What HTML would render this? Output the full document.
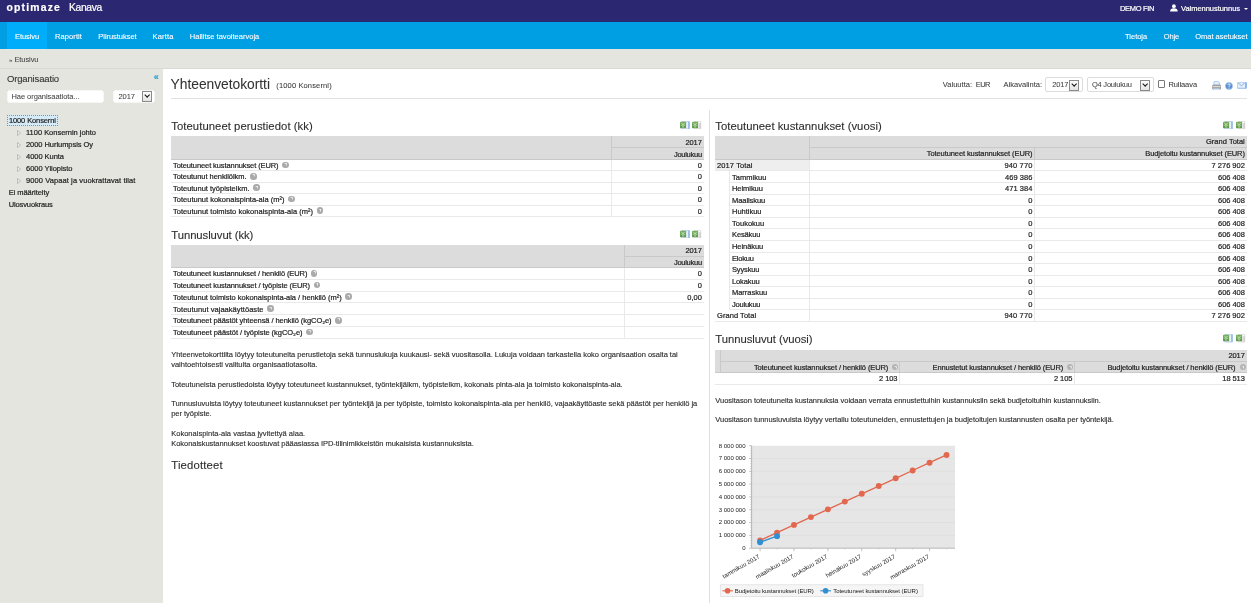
<!DOCTYPE html>
<html lang="fi"><head>
<meta charset="utf-8">
<title>Optimaze Kanava - Yhteenvetokortti</title>
<style>
*{box-sizing:border-box;margin:0;padding:0}
html,body{width:1251px;height:603px;overflow:hidden;background:#e5e5e0;font-family:"Liberation Sans",sans-serif;color:#222;font-size:7.5px;line-height:10px;-webkit-text-stroke:0.2px currentColor}
span{white-space:nowrap}
.abs{position:absolute;white-space:nowrap}
#top{position:absolute;left:0;top:0;width:1251px;height:22px;background:#2b2770}
#nav{position:absolute;left:0;top:22px;width:1251px;height:27px;background:#009ee3}
#nav .act{position:absolute;left:6.6px;top:0;width:40.4px;height:27px;background:#00adfb}
#nav a,#top span{position:absolute;color:#fff;white-space:nowrap;text-decoration:none}
#nav a{-webkit-text-stroke:0.1px #fff;top:9px;font-size:7.5px;line-height:11px}
#crumb{position:absolute;left:0;top:49px;width:1251px;height:20px;background:#e5e5e0;border-bottom:1px solid #dadad5}
#side{position:absolute;left:0;top:69px;width:163px;height:534px;background:#e5e5e0}
#side .n{position:absolute;white-space:nowrap;line-height:10px}
#side .tri{position:absolute}
#main{position:absolute;left:163px;top:69px;width:1088px;height:534px;background:#fff}
.h1{font-size:14px;line-height:18px;color:#333;-webkit-text-stroke:0.05px currentColor}
.h2{font-size:11.5px;line-height:14px;color:#2e2e2e;-webkit-text-stroke:0.1px currentColor}
#side .inp{border-color:#f6f6f4;box-shadow:0 0 0.6px #c8c8c4}
.inp{position:absolute;background:#fff;border:1px solid #dcdcdc;border-radius:2px;font-size:7.5px;line-height:12.5px;color:#444;padding-left:4px;white-space:nowrap;-webkit-text-stroke:0.05px currentColor}
.dd{position:absolute;right:2.5px;top:0.6px;width:10px;height:10.6px;border:1px solid #8a8a8a;background:linear-gradient(#fdfdfd,#e4e4e4)}
.dd:after{content:"";position:absolute;left:2.1px;top:0.9px;width:3.4px;height:3.4px;border-right:1.2px solid #111;border-bottom:1.2px solid #111;transform:rotate(45deg)}
table{position:absolute;border-collapse:collapse;table-layout:fixed;font-size:7.5px}
td,th{font-weight:normal;line-height:9px;padding:0.6px 2.2px 0 2px;white-space:nowrap;overflow:hidden;border-bottom:1px solid #e9e9e9;border-right:1px solid #e9e9e9;text-align:left;vertical-align:middle}
th{background:#dcdcdc;border-color:#c9c9c9;text-align:right;padding-top:1.2px}
td.r{text-align:right}
td:last-child,th:last-child{border-right:none}
td.r:not(:last-child),th:not(:last-child){padding-right:1.3px}
.q{display:inline-block;width:6.6px;height:6.6px;border-radius:50%;background:#aaa;margin-left:3.6px;vertical-align:-0.6px;position:relative;top:-0.4px}
th .q{width:6.1px;height:6.1px;background:#b4b4b4;margin:0 -0.8px 0 4px;top:0}
th .q:after{left:2px;top:1.2px;border-color:#ececec #ececec transparent transparent}
.q:after{content:"";position:absolute;left:2px;top:1.3px;width:2.7px;height:3px;border:1px solid #f0f0f0;border-left-color:transparent;border-bottom-color:transparent;border-radius:50%;box-sizing:border-box}
p.t{position:absolute;left:8.2px;white-space:nowrap;color:#2c2c2c;-webkit-text-stroke:0.12px currentColor}
.lb{color:#3a3a3a;-webkit-text-stroke:0.06px currentColor}
.hr{position:absolute;height:1px;background:#e2e2e2}
.xl{position:absolute;width:9px;height:8px}
.t3 td.ind{border-bottom:none;padding:0}
</style>
</head>
<body>
<div id="top">
  <span style="left: 6.5px; top: 1.1px; font-size: 10.4px; line-height: 14px; font-weight: bold; letter-spacing: 1.182px;">optimaze</span>
  <span style="left: 69px; top: 1.4px; font-size: 10.3px; line-height: 14px; letter-spacing: -0.323px;">Kanava</span>
  <span style="left: 1120px; top: 3.5px; font-size: 7.5px; line-height: 10px; letter-spacing: -0.334px;">DEMO FIN</span>
  <svg style="position:absolute;left:1170px;top:4.4px" width="7.8" height="7.6" viewBox="0 0 16 16"><circle cx="8" cy="4.5" r="4" fill="#fff"></circle><path d="M0 16c0-5 3-7 8-7s8 2 8 7z" fill="#fff"></path></svg>
  <span style="left: 1181px; top: 3.5px; font-size: 7.5px; line-height: 10px; letter-spacing: -0.032px;">Valmennustunnus</span>
  <div style="position:absolute;left:1243.5px;top:8px;width:0;height:0;border-top:2.5px solid #fff;border-left:2px solid transparent;border-right:2px solid transparent"></div>
</div>
<div id="nav">
  <div class="act"></div>
  <a style="left: 15px; letter-spacing: -0.087px;">Etusivu</a>
  <a style="left: 55px; letter-spacing: 0.092px;">Raportit</a>
  <a style="left: 98.3px; letter-spacing: -0.039px;">Piirustukset</a>
  <a style="left: 152.6px; letter-spacing: 0.164px;">Kartta</a>
  <a style="left: 189.8px; letter-spacing: 0.013px;">Hallitse tavoitearvoja</a>
  <a style="left: 1125px; letter-spacing: -0.005px;">Tietoja</a>
  <a style="left: 1163.8px; letter-spacing: -0.161px;">Ohje</a>
  <a style="left: 1195.3px; letter-spacing: -0.024px;">Omat asetukset</a>
</div>
<div id="crumb"><span class="abs" style="left:9px;top:6px;line-height:10px;color:#444;-webkit-text-stroke:0.05px currentColor"><span style="font-size:6px;vertical-align:0.3px">»</span> <span style="letter-spacing: -0.087px;">Etusivu</span></span></div>
<div id="side">
  <span class="abs" style="left: 7px; top: 3.1px; font-size: 9.5px; line-height: 14px; color: rgb(51, 51, 51); -webkit-text-stroke: 0.1px currentcolor; letter-spacing: -0.156px;">Organisaatio</span>
  <span class="abs" style="left:153.8px;top:2.7px;font-size:9px;line-height:10px;color:#2a9fd8;font-weight:bold">«</span>
  <div class="inp" style="left:6.8px;top:20.5px;width:97.5px;height:13.5px;padding-left:3.7px"><span style="letter-spacing: -0.058px;">Hae organisaatiota...</span></div>
  <div class="inp" style="left:113px;top:20.5px;width:42.3px;height:13.5px;padding-left:4.5px"><span style="letter-spacing: -0.047px;">2017</span><i class="dd"></i></div>
  <span class="n" style="left: 6.6px; top: 46px; border: 1px dotted rgb(106, 154, 176); background: rgb(214, 235, 248); padding: 0.4px 1px 0px 1.3px; line-height: 9px; letter-spacing: -0.106px;">1000 Konserni</span>
  <svg class="tri" style="left:17.1px;top:61.2px" width="4.2" height="6" viewBox="0 0 4.2 6"><path d="M.5 .5L3.6 3L.5 5.5Z" fill="#ececea" stroke="#a8a8a8" stroke-width=".7"></path></svg><span class="n" style="left: 26px; top: 59.4px; letter-spacing: -0.017px;">1100 Konsernin johto</span>
  <svg class="tri" style="left:17.1px;top:73.0px" width="4.2" height="6" viewBox="0 0 4.2 6"><path d="M.5 .5L3.6 3L.5 5.5Z" fill="#ececea" stroke="#a8a8a8" stroke-width=".7"></path></svg><span class="n" style="left: 26px; top: 71.2px; letter-spacing: -0.053px;">2000 Hurlumpsis Oy</span>
  <svg class="tri" style="left:17.1px;top:85.2px" width="4.2" height="6" viewBox="0 0 4.2 6"><path d="M.5 .5L3.6 3L.5 5.5Z" fill="#ececea" stroke="#a8a8a8" stroke-width=".7"></path></svg><span class="n" style="left: 26px; top: 83.4px; letter-spacing: -0.037px;">4000 Kunta</span>
  <svg class="tri" style="left:17.1px;top:97.0px" width="4.2" height="6" viewBox="0 0 4.2 6"><path d="M.5 .5L3.6 3L.5 5.5Z" fill="#ececea" stroke="#a8a8a8" stroke-width=".7"></path></svg><span class="n" style="left: 26px; top: 95.2px; letter-spacing: -0.035px;">6000 Yliopisto</span>
  <svg class="tri" style="left:17.1px;top:108.8px" width="4.2" height="6" viewBox="0 0 4.2 6"><path d="M.5 .5L3.6 3L.5 5.5Z" fill="#ececea" stroke="#a8a8a8" stroke-width=".7"></path></svg><span class="n" style="left: 26px; top: 107px; letter-spacing: 0.088px;">9000 Vapaat ja vuokrattavat tilat</span>
  <span class="n" style="left: 8.7px; top: 119px; letter-spacing: -0.059px;">Ei määritelty</span>
  <span class="n" style="left: 8.7px; top: 131px; letter-spacing: -0.12px;">Ulosvuokraus</span>
</div>
<div id="main">
  <span class="abs h1" style="left: 7.6px; top: 6.6px; font-size: 13.8px; letter-spacing: -0.02px;">Yhteenvetokortti</span>
  <span class="abs lb" style="left: 113.3px; top: 11.5px; letter-spacing: 0.142px;">(1000 Konserni)</span>
  <span class="abs lb" style="left: 779.8px; top: 11px; letter-spacing: 0.026px;">Valuutta:</span>
  <span class="abs lb" style="left: 812.8px; top: 11px; letter-spacing: -0.548px;">EUR</span>
  <span class="abs lb" style="left: 840.6px; top: 11px; letter-spacing: 0.012px;">Aikavalinta:</span>
  <div class="inp" style="left:882.3px;top:8px;width:37.6px;height:15px;line-height:13.5px;padding-left:6px"><span style="letter-spacing: -0.172px;">2017</span><i class="dd" style="top:2px;right:3px"></i></div>
  <div class="inp" style="left:924.3px;top:8px;width:66.6px;height:15px;line-height:13.5px;padding-left:3.6px"><span style="letter-spacing: -0.211px;">Q4 Joulukuu</span><i class="dd" style="top:2px;right:3px"></i></div>
  <div class="abs" style="left:995.3px;top:11.2px;width:7.2px;height:7.6px;border:1px solid #777;border-radius:1px;background:#fff"></div>
  <span class="abs lb" style="left: 1005.4px; top: 11px; letter-spacing: -0.073px;">Rullaava</span>
  <svg class="abs" style="left:1049px;top:11.6px" width="9.4" height="9.4" viewBox="0 0 9.4 9.4"><path d="M2 4.2V.9Q2 .3 2.6 .3H6L7.6 1.8V4.2Z" fill="#e4effc" stroke="#8db6ea" stroke-width=".7"></path><rect x=".3" y="4" width="8.8" height="4.2" rx="1" fill="#a9a9a9" stroke="#8e8e8e" stroke-width=".5"></rect><rect x=".9" y="5" width="7.6" height="1" fill="#d9d9d9"></rect><rect x="1.8" y="7.6" width="5.8" height="1.5" fill="#d5e6fb" stroke="#a9c8f0" stroke-width=".4"></rect></svg>
  <svg class="abs" style="left:1062.4px;top:12.6px;-webkit-text-stroke:0" width="8" height="8" viewBox="0 0 8 8"><circle cx="4" cy="4" r="3.6" fill="#5b8fd1" stroke="#a9c6ec" stroke-width=".7"></circle><path d="M2.9 3.1Q2.9 1.9 4 1.9Q5.2 1.9 5.2 2.9Q5.2 3.6 4.5 3.9Q4 4.2 4 4.9" fill="none" stroke="#eef4fc" stroke-width="1"></path><circle cx="4" cy="6.1" r=".6" fill="#eef4fc"></circle></svg>
  <svg class="abs" style="left:1074.2px;top:13px" width="9.8" height="6.8" viewBox="0 0 9.8 6.8"><rect x=".4" y=".4" width="9" height="6" rx=".7" fill="#e6f0fc" stroke="#a4c3ee" stroke-width=".8"></rect><rect x="8.2" y=".3" width="1.4" height="6.2" rx=".5" fill="#7fa9e2"></rect><path d="M1.2 1.2l3.2 2.5L7.6 1.2" fill="none" stroke="#7fa9e2" stroke-width=".9"></path><path d="M.6 6.2h8.6" stroke="#a4c3ee" stroke-width=".8"></path></svg>
  <div class="hr" style="left:8px;top:29.2px;width:1076px"></div>
  <div class="abs" style="left:546px;top:40.5px;width:1px;height:494px;background:#e0e0e0"></div>

  <!-- left column -->
  <span class="abs h2" style="left: 8.3px; top: 49.7px; font-size: 11.3px; letter-spacing: 0.052px;">Toteutuneet perustiedot (kk)</span>
  <svg class="abs" style="left:517.0px;top:51.6px" width="10.2" height="8.6" viewBox="0 0 10.2 8.6"><rect x="1.6" y="0.4" width="8.1" height="7.7" rx=".5" fill="#dce7f9" stroke="#a9c3ec" stroke-width=".7"></rect><rect x="8" y="0.6" width="1.8" height="7.3" fill="#9fbcea"></rect><rect x="6.6" y="1.3" width="1.1" height="5.8" fill="#f1f5fd"></rect><rect x="0" y="0.7" width="6.1" height="6.6" rx=".9" fill="#72aa5b"></rect><path d="M1.3 2.1L4.8 5M4.8 2.1L1.3 5" stroke="#c6e5bb" stroke-width=".9" fill="none"></path><rect x="0.4" y="5" width="5.3" height="1.9" rx=".6" fill="#579444"></rect><path d="M1.9 5.9h2.4" stroke="#e9f5e3" stroke-width=".8" fill="none"></path></svg><svg class="abs" style="left:529.1px;top:51.6px" width="10.2" height="8.6" viewBox="0 0 10.2 8.6"><rect x="2.2" y="0.4" width="6.6" height="7.6" rx=".5" fill="#ededed" stroke="#d0d0d0" stroke-width=".6"></rect><rect x="7.3" y="1.8" width="1.5" height="6" fill="#cdcdcd"></rect><rect x="6.4" y="0.9" width="1.8" height="1.4" fill="#fff"></rect><rect x="0" y="0.7" width="6.1" height="6.6" rx=".9" fill="#72aa5b"></rect><path d="M1.3 2.1L4.8 5M4.8 2.1L1.3 5" stroke="#c6e5bb" stroke-width=".9" fill="none"></path><rect x="0.4" y="5" width="5.3" height="1.9" rx=".6" fill="#579444"></rect><path d="M1.9 5.9h2.4" stroke="#e9f5e3" stroke-width=".8" fill="none"></path></svg>
  <table style="left:8px;top:67.1px;width:533px">
    <colgroup><col style="width:440.5px"><col></colgroup>
    <tbody><tr style="height:11.3px"><th rowspan="2"></th><th><span style="letter-spacing: -0.072px;">2017</span></th></tr>
    <tr style="height:12.1px"><th><span style="letter-spacing: -0.266px;">Joulukuu</span></th></tr>
    <tr style="height:11.42px"><td><span style="letter-spacing: -0.097px;">Toteutuneet kustannukset (EUR)</span><i class="q"></i></td><td class="r">0</td></tr>
    <tr style="height:11.42px"><td><span style="letter-spacing: -0.052px;">Toteutunut henkilölkm.</span><i class="q"></i></td><td class="r">0</td></tr>
    <tr style="height:11.42px"><td><span style="letter-spacing: -0.01px;">Toteutunut työpistelkm.</span><i class="q"></i></td><td class="r">0</td></tr>
    <tr style="height:11.42px"><td><span style="letter-spacing: 0.006px;">Toteutunut kokonaispinta-ala (m²)</span><i class="q"></i></td><td class="r">0</td></tr>
    <tr style="height:11.42px"><td><span style="letter-spacing: 0.018px;">Toteutunut toimisto kokonaispinta-ala (m²)</span><i class="q"></i></td><td class="r">0</td></tr>
  </tbody></table>

  <span class="abs h2" style="left: 8.3px; top: 158.7px; font-size: 11.3px; letter-spacing: -0.068px;">Tunnusluvut (kk)</span>
  <svg class="abs" style="left:517.0px;top:160.6px" width="10.2" height="8.6" viewBox="0 0 10.2 8.6"><rect x="1.6" y="0.4" width="8.1" height="7.7" rx=".5" fill="#dce7f9" stroke="#a9c3ec" stroke-width=".7"></rect><rect x="8" y="0.6" width="1.8" height="7.3" fill="#9fbcea"></rect><rect x="6.6" y="1.3" width="1.1" height="5.8" fill="#f1f5fd"></rect><rect x="0" y="0.7" width="6.1" height="6.6" rx=".9" fill="#72aa5b"></rect><path d="M1.3 2.1L4.8 5M4.8 2.1L1.3 5" stroke="#c6e5bb" stroke-width=".9" fill="none"></path><rect x="0.4" y="5" width="5.3" height="1.9" rx=".6" fill="#579444"></rect><path d="M1.9 5.9h2.4" stroke="#e9f5e3" stroke-width=".8" fill="none"></path></svg><svg class="abs" style="left:529.1px;top:160.6px" width="10.2" height="8.6" viewBox="0 0 10.2 8.6"><rect x="2.2" y="0.4" width="6.6" height="7.6" rx=".5" fill="#ededed" stroke="#d0d0d0" stroke-width=".6"></rect><rect x="7.3" y="1.8" width="1.5" height="6" fill="#cdcdcd"></rect><rect x="6.4" y="0.9" width="1.8" height="1.4" fill="#fff"></rect><rect x="0" y="0.7" width="6.1" height="6.6" rx=".9" fill="#72aa5b"></rect><path d="M1.3 2.1L4.8 5M4.8 2.1L1.3 5" stroke="#c6e5bb" stroke-width=".9" fill="none"></path><rect x="0.4" y="5" width="5.3" height="1.9" rx=".6" fill="#579444"></rect><path d="M1.9 5.9h2.4" stroke="#e9f5e3" stroke-width=".8" fill="none"></path></svg>
  <table style="left:8px;top:176px;width:533px">
    <colgroup><col style="width:453.4px"><col></colgroup>
    <tbody><tr style="height:11.3px"><th rowspan="2"></th><th><span style="letter-spacing: -0.072px;">2017</span></th></tr>
    <tr style="height:11.4px"><th><span style="letter-spacing: -0.266px;">Joulukuu</span></th></tr>
    <tr style="height:11.75px"><td><span style="letter-spacing: -0.103px;">Toteutuneet kustannukset / henkilö (EUR)</span><i class="q"></i></td><td class="r">0</td></tr>
    <tr style="height:11.75px"><td><span style="letter-spacing: -0.085px;">Toteutuneet kustannukset / työpiste (EUR)</span><i class="q"></i></td><td class="r">0</td></tr>
    <tr style="height:11.75px"><td><span style="letter-spacing: -0.011px;">Toteutunut toimisto kokonaispinta-ala / henkilö (m²)</span><i class="q"></i></td><td class="r"><span style="letter-spacing: -0.027px;">0,00</span></td></tr>
    <tr style="height:11.75px"><td><span style="letter-spacing: 0.049px;">Toteutunut vajaakäyttöaste</span><i class="q"></i></td><td class="r"></td></tr>
    <tr style="height:11.75px"><td><span style="letter-spacing: -0.069px;">Toteutuneet päästöt yhteensä / henkilö (kgCO₂e)</span><i class="q"></i></td><td class="r"></td></tr>
    <tr style="height:11.75px"><td><span style="letter-spacing: -0.047px;">Toteutuneet päästöt / työpiste (kgCO₂e)</span><i class="q"></i></td><td class="r"></td></tr>
  </tbody></table>

  <p class="t" style="top:281.0px"><span style="letter-spacing: -0.016px;">Yhteenvetokorttilta löytyy toteutuneita perustietoja sekä tunnuslukuja kuukausi- sekä vuositasolla. Lukuja voidaan tarkastella koko organisaation osalta tai</span><br><span>vaihtoehtoisesti valitulta organisaatiotasolta.</span></p>
  <p class="t" style="top:310.7px"><span style="letter-spacing: -0.009px;">Toteutuneista perustiedoista löytyy toteutuneet kustannukset, työntekijälkm, työpistelkm, kokonais pinta-ala ja toimisto kokonaispinta-ala.</span></p>
  <p class="t" style="top:330.2px"><span style="letter-spacing: -0.022px;">Tunnusluvuista löytyy toteutuneet kustannukset per työntekijä ja per työpiste, toimisto kokonaispinta-ala per henkilö, vajaakäyttöaste sekä päästöt per henkilö ja</span><br><span style="letter-spacing: -0.028px;">per työpiste.</span></p>
  <p class="t" style="top:359.7px"><span style="letter-spacing: 0.014px;">Kokonaispinta-ala vastaa jyvitettyä alaa.</span><br><span style="letter-spacing: -0.039px;">Kokonaiskustannukset koostuvat pääasiassa IPD-tilinimikkeistön mukaisista kustannuksista.</span></p>
  <span class="abs h2" style="left: 8.3px; top: 388.6px; font-size: 11.3px; letter-spacing: 0.167px;">Tiedotteet</span>

  <!-- right column -->
  <span class="abs h2" style="left: 552.3px; top: 49.7px; font-size: 11.3px; letter-spacing: 0.019px;">Toteutuneet kustannukset (vuosi)</span>
  <svg class="abs" style="left:1060.0px;top:51.6px" width="10.2" height="8.6" viewBox="0 0 10.2 8.6"><rect x="1.6" y="0.4" width="8.1" height="7.7" rx=".5" fill="#dce7f9" stroke="#a9c3ec" stroke-width=".7"></rect><rect x="8" y="0.6" width="1.8" height="7.3" fill="#9fbcea"></rect><rect x="6.6" y="1.3" width="1.1" height="5.8" fill="#f1f5fd"></rect><rect x="0" y="0.7" width="6.1" height="6.6" rx=".9" fill="#72aa5b"></rect><path d="M1.3 2.1L4.8 5M4.8 2.1L1.3 5" stroke="#c6e5bb" stroke-width=".9" fill="none"></path><rect x="0.4" y="5" width="5.3" height="1.9" rx=".6" fill="#579444"></rect><path d="M1.9 5.9h2.4" stroke="#e9f5e3" stroke-width=".8" fill="none"></path></svg><svg class="abs" style="left:1073.0px;top:51.6px" width="10.2" height="8.6" viewBox="0 0 10.2 8.6"><rect x="2.2" y="0.4" width="6.6" height="7.6" rx=".5" fill="#ededed" stroke="#d0d0d0" stroke-width=".6"></rect><rect x="7.3" y="1.8" width="1.5" height="6" fill="#cdcdcd"></rect><rect x="6.4" y="0.9" width="1.8" height="1.4" fill="#fff"></rect><rect x="0" y="0.7" width="6.1" height="6.6" rx=".9" fill="#72aa5b"></rect><path d="M1.3 2.1L4.8 5M4.8 2.1L1.3 5" stroke="#c6e5bb" stroke-width=".9" fill="none"></path><rect x="0.4" y="5" width="5.3" height="1.9" rx=".6" fill="#579444"></rect><path d="M1.9 5.9h2.4" stroke="#e9f5e3" stroke-width=".8" fill="none"></path></svg>
  <table style="left:552px;top:66.9px;width:532px" class="t3">
    <colgroup><col style="width:14.5px"><col style="width:80px"><col style="width:224.8px"><col></colgroup>
    <tbody><tr style="height:11.2px"><th rowspan="2" colspan="2"></th><th colspan="2"><span style="letter-spacing: 0.014px;">Grand Total</span></th></tr>
    <tr style="height:12.3px"><th><span style="letter-spacing: -0.087px;">Toteutuneet kustannukset (EUR)</span></th><th><span style="letter-spacing: -0.106px;">Budjetoitu kustannukset (EUR)</span></th></tr>
    <tr style="height:11.58px"><td colspan="2" style="background:#eeeeee"><span style="letter-spacing: 0.102px;">2017 Total</span></td><td class="r"><span style="letter-spacing: 0.125px;">940 770</span></td><td class="r"><span style="letter-spacing: -0.019px;">7 276 902</span></td></tr>
    <tr style="height:11.58px"><td class="ind"></td><td><span style="letter-spacing: 0.027px;">Tammikuu</span></td><td class="r"><span style="letter-spacing: 0.054px;">469 386</span></td><td class="r"><span style="letter-spacing: -0.046px;">606 408</span></td></tr>
    <tr style="height:11.58px"><td class="ind"></td><td><span style="letter-spacing: -0.058px;">Helmikuu</span></td><td class="r"><span style="letter-spacing: 0.054px;">471 384</span></td><td class="r"><span style="letter-spacing: -0.046px;">606 408</span></td></tr>
    <tr style="height:11.58px"><td class="ind"></td><td><span style="letter-spacing: -0.063px;">Maaliskuu</span></td><td class="r">0</td><td class="r"><span style="letter-spacing: -0.046px;">606 408</span></td></tr>
    <tr style="height:11.58px"><td class="ind"></td><td><span style="letter-spacing: -0.014px;">Huhtikuu</span></td><td class="r">0</td><td class="r"><span style="letter-spacing: -0.046px;">606 408</span></td></tr>
    <tr style="height:11.58px"><td class="ind"></td><td><span style="letter-spacing: 0.011px;">Toukokuu</span></td><td class="r">0</td><td class="r"><span style="letter-spacing: -0.046px;">606 408</span></td></tr>
    <tr style="height:11.58px"><td class="ind"></td><td><span style="letter-spacing: -0.127px;">Kesäkuu</span></td><td class="r">0</td><td class="r"><span style="letter-spacing: -0.046px;">606 408</span></td></tr>
    <tr style="height:11.58px"><td class="ind"></td><td><span style="letter-spacing: -0.063px;">Heinäkuu</span></td><td class="r">0</td><td class="r"><span style="letter-spacing: -0.046px;">606 408</span></td></tr>
    <tr style="height:11.58px"><td class="ind"></td><td><span style="letter-spacing: -0.206px;">Elokuu</span></td><td class="r">0</td><td class="r"><span style="letter-spacing: -0.046px;">606 408</span></td></tr>
    <tr style="height:11.58px"><td class="ind"></td><td><span style="letter-spacing: -0.151px;">Syyskuu</span></td><td class="r">0</td><td class="r"><span style="letter-spacing: -0.046px;">606 408</span></td></tr>
    <tr style="height:11.58px"><td class="ind"></td><td><span style="letter-spacing: -0.123px;">Lokakuu</span></td><td class="r">0</td><td class="r"><span style="letter-spacing: -0.046px;">606 408</span></td></tr>
    <tr style="height:11.58px"><td class="ind"></td><td><span style="letter-spacing: -0.026px;">Marraskuu</span></td><td class="r">0</td><td class="r"><span style="letter-spacing: -0.046px;">606 408</span></td></tr>
    <tr style="height:11.58px"><td class="ind"></td><td><span style="letter-spacing: -0.216px;">Joulukuu</span></td><td class="r">0</td><td class="r"><span style="letter-spacing: -0.046px;">606 408</span></td></tr>
    <tr style="height:11.58px"><td colspan="2"><span style="letter-spacing: 0.051px;">Grand Total</span></td><td class="r"><span style="letter-spacing: 0.125px;">940 770</span></td><td class="r"><span style="letter-spacing: -0.019px;">7 276 902</span></td></tr>
  </tbody></table>

  <span class="abs h2" style="left: 552.3px; top: 262.5px; font-size: 11.3px; letter-spacing: -0.051px;">Tunnusluvut (vuosi)</span>
  <svg class="abs" style="left:1060.0px;top:265.4px" width="10.2" height="8.6" viewBox="0 0 10.2 8.6"><rect x="1.6" y="0.4" width="8.1" height="7.7" rx=".5" fill="#dce7f9" stroke="#a9c3ec" stroke-width=".7"></rect><rect x="8" y="0.6" width="1.8" height="7.3" fill="#9fbcea"></rect><rect x="6.6" y="1.3" width="1.1" height="5.8" fill="#f1f5fd"></rect><rect x="0" y="0.7" width="6.1" height="6.6" rx=".9" fill="#72aa5b"></rect><path d="M1.3 2.1L4.8 5M4.8 2.1L1.3 5" stroke="#c6e5bb" stroke-width=".9" fill="none"></path><rect x="0.4" y="5" width="5.3" height="1.9" rx=".6" fill="#579444"></rect><path d="M1.9 5.9h2.4" stroke="#e9f5e3" stroke-width=".8" fill="none"></path></svg><svg class="abs" style="left:1073.0px;top:265.4px" width="10.2" height="8.6" viewBox="0 0 10.2 8.6"><rect x="2.2" y="0.4" width="6.6" height="7.6" rx=".5" fill="#ededed" stroke="#d0d0d0" stroke-width=".6"></rect><rect x="7.3" y="1.8" width="1.5" height="6" fill="#cdcdcd"></rect><rect x="6.4" y="0.9" width="1.8" height="1.4" fill="#fff"></rect><rect x="0" y="0.7" width="6.1" height="6.6" rx=".9" fill="#72aa5b"></rect><path d="M1.3 2.1L4.8 5M4.8 2.1L1.3 5" stroke="#c6e5bb" stroke-width=".9" fill="none"></path><rect x="0.4" y="5" width="5.3" height="1.9" rx=".6" fill="#579444"></rect><path d="M1.9 5.9h2.4" stroke="#e9f5e3" stroke-width=".8" fill="none"></path></svg>
  <table style="left:552px;top:280.9px;width:532px">
    <colgroup><col style="width:5px"><col style="width:179.3px"><col style="width:174.9px"><col></colgroup>
    <tbody><tr style="height:11.3px"><th rowspan="2"></th><th colspan="3"><span style="letter-spacing: -0.072px;">2017</span></th></tr>
    <tr style="height:11.2px"><th><span style="letter-spacing: -0.103px;">Toteutuneet kustannukset / henkilö (EUR)</span><i class="q"></i></th><th><span style="letter-spacing: -0.117px;">Ennustetut kustannukset / henkilö (EUR)</span><i class="q"></i></th><th><span style="letter-spacing: -0.115px;">Budjetoitu kustannukset / henkilö (EUR)</span><i class="q"></i></th></tr>
    <tr style="height:11.7px"><td colspan="2" class="r"><span style="letter-spacing: -0.056px;">2 103</span></td><td class="r"><span style="letter-spacing: -0.056px;">2 105</span></td><td class="r"><span style="letter-spacing: -0.076px;">18 513</span></td></tr>
  </tbody></table>
  <p class="t" style="left:552.3px;top:326.8px"><span style="letter-spacing: -0.021px;">Vuositason toteutuneita kustannuksia voidaan verrata ennustettuihin kustannuksiin sekä budjetoituihin kustannuksiin.</span></p>
  <p class="t" style="left:552.3px;top:346.3px"><span style="letter-spacing: -0.023px;">Vuositason tunnusluvuista löytyy vertailu toteutuneiden, ennustettujen ja budjetoitujen kustannusten osalta per työntekijä.</span></p>
  <svg class="abs" style="left:552px;top:368px;-webkit-text-stroke:0.2px #1a1a1a" width="245" height="166" viewBox="0 0 245 166" font-family="Liberation Sans, sans-serif" font-size="6.05">
<rect x="36.6" y="8.7" width="203.4" height="102.5" fill="#e6e6e6"></rect>
<line x1="36.6" x2="240.0" y1="98.39" y2="98.39" stroke="#dddddd" stroke-width="0.7"></line>
<line x1="36.6" x2="240.0" y1="85.58" y2="85.58" stroke="#dddddd" stroke-width="0.7"></line>
<line x1="36.6" x2="240.0" y1="72.76" y2="72.76" stroke="#dddddd" stroke-width="0.7"></line>
<line x1="36.6" x2="240.0" y1="59.95" y2="59.95" stroke="#dddddd" stroke-width="0.7"></line>
<line x1="36.6" x2="240.0" y1="47.14" y2="47.14" stroke="#dddddd" stroke-width="0.7"></line>
<line x1="36.6" x2="240.0" y1="34.33" y2="34.33" stroke="#dddddd" stroke-width="0.7"></line>
<line x1="36.6" x2="240.0" y1="21.51" y2="21.51" stroke="#dddddd" stroke-width="0.7"></line>
<path d="M36.6 8.7V111.2H240.0" fill="none" stroke="#a6a6a6" stroke-width="0.8"></path>
<line x1="34.1" x2="36.6" y1="111.20" y2="111.20" stroke="#a6a6a6" stroke-width="0.7"></line>
<line x1="35.2" x2="36.6" y1="108.64" y2="108.64" stroke="#b8b8b8" stroke-width="0.6"></line>
<line x1="35.2" x2="36.6" y1="106.08" y2="106.08" stroke="#b8b8b8" stroke-width="0.6"></line>
<line x1="35.2" x2="36.6" y1="103.51" y2="103.51" stroke="#b8b8b8" stroke-width="0.6"></line>
<line x1="35.2" x2="36.6" y1="100.95" y2="100.95" stroke="#b8b8b8" stroke-width="0.6"></line>
<text x="30.6" y="113.10" text-anchor="end" fill="#1a1a1a">0</text>
<line x1="34.1" x2="36.6" y1="98.39" y2="98.39" stroke="#a6a6a6" stroke-width="0.7"></line>
<line x1="35.2" x2="36.6" y1="95.83" y2="95.83" stroke="#b8b8b8" stroke-width="0.6"></line>
<line x1="35.2" x2="36.6" y1="93.26" y2="93.26" stroke="#b8b8b8" stroke-width="0.6"></line>
<line x1="35.2" x2="36.6" y1="90.70" y2="90.70" stroke="#b8b8b8" stroke-width="0.6"></line>
<line x1="35.2" x2="36.6" y1="88.14" y2="88.14" stroke="#b8b8b8" stroke-width="0.6"></line>
<text x="30.6" y="100.29" text-anchor="end" fill="#1a1a1a">1 000 000</text>
<line x1="34.1" x2="36.6" y1="85.58" y2="85.58" stroke="#a6a6a6" stroke-width="0.7"></line>
<line x1="35.2" x2="36.6" y1="83.01" y2="83.01" stroke="#b8b8b8" stroke-width="0.6"></line>
<line x1="35.2" x2="36.6" y1="80.45" y2="80.45" stroke="#b8b8b8" stroke-width="0.6"></line>
<line x1="35.2" x2="36.6" y1="77.89" y2="77.89" stroke="#b8b8b8" stroke-width="0.6"></line>
<line x1="35.2" x2="36.6" y1="75.33" y2="75.33" stroke="#b8b8b8" stroke-width="0.6"></line>
<text x="30.6" y="87.48" text-anchor="end" fill="#1a1a1a">2 000 000</text>
<line x1="34.1" x2="36.6" y1="72.76" y2="72.76" stroke="#a6a6a6" stroke-width="0.7"></line>
<line x1="35.2" x2="36.6" y1="70.20" y2="70.20" stroke="#b8b8b8" stroke-width="0.6"></line>
<line x1="35.2" x2="36.6" y1="67.64" y2="67.64" stroke="#b8b8b8" stroke-width="0.6"></line>
<line x1="35.2" x2="36.6" y1="65.08" y2="65.08" stroke="#b8b8b8" stroke-width="0.6"></line>
<line x1="35.2" x2="36.6" y1="62.51" y2="62.51" stroke="#b8b8b8" stroke-width="0.6"></line>
<text x="30.6" y="74.66" text-anchor="end" fill="#1a1a1a">3 000 000</text>
<line x1="34.1" x2="36.6" y1="59.95" y2="59.95" stroke="#a6a6a6" stroke-width="0.7"></line>
<line x1="35.2" x2="36.6" y1="57.39" y2="57.39" stroke="#b8b8b8" stroke-width="0.6"></line>
<line x1="35.2" x2="36.6" y1="54.83" y2="54.83" stroke="#b8b8b8" stroke-width="0.6"></line>
<line x1="35.2" x2="36.6" y1="52.26" y2="52.26" stroke="#b8b8b8" stroke-width="0.6"></line>
<line x1="35.2" x2="36.6" y1="49.70" y2="49.70" stroke="#b8b8b8" stroke-width="0.6"></line>
<text x="30.6" y="61.85" text-anchor="end" fill="#1a1a1a">4 000 000</text>
<line x1="34.1" x2="36.6" y1="47.14" y2="47.14" stroke="#a6a6a6" stroke-width="0.7"></line>
<line x1="35.2" x2="36.6" y1="44.58" y2="44.58" stroke="#b8b8b8" stroke-width="0.6"></line>
<line x1="35.2" x2="36.6" y1="42.01" y2="42.01" stroke="#b8b8b8" stroke-width="0.6"></line>
<line x1="35.2" x2="36.6" y1="39.45" y2="39.45" stroke="#b8b8b8" stroke-width="0.6"></line>
<line x1="35.2" x2="36.6" y1="36.89" y2="36.89" stroke="#b8b8b8" stroke-width="0.6"></line>
<text x="30.6" y="49.04" text-anchor="end" fill="#1a1a1a">5 000 000</text>
<line x1="34.1" x2="36.6" y1="34.33" y2="34.33" stroke="#a6a6a6" stroke-width="0.7"></line>
<line x1="35.2" x2="36.6" y1="31.76" y2="31.76" stroke="#b8b8b8" stroke-width="0.6"></line>
<line x1="35.2" x2="36.6" y1="29.20" y2="29.20" stroke="#b8b8b8" stroke-width="0.6"></line>
<line x1="35.2" x2="36.6" y1="26.64" y2="26.64" stroke="#b8b8b8" stroke-width="0.6"></line>
<line x1="35.2" x2="36.6" y1="24.07" y2="24.07" stroke="#b8b8b8" stroke-width="0.6"></line>
<text x="30.6" y="36.23" text-anchor="end" fill="#1a1a1a">6 000 000</text>
<line x1="34.1" x2="36.6" y1="21.51" y2="21.51" stroke="#a6a6a6" stroke-width="0.7"></line>
<line x1="35.2" x2="36.6" y1="18.95" y2="18.95" stroke="#b8b8b8" stroke-width="0.6"></line>
<line x1="35.2" x2="36.6" y1="16.39" y2="16.39" stroke="#b8b8b8" stroke-width="0.6"></line>
<line x1="35.2" x2="36.6" y1="13.82" y2="13.82" stroke="#b8b8b8" stroke-width="0.6"></line>
<line x1="35.2" x2="36.6" y1="11.26" y2="11.26" stroke="#b8b8b8" stroke-width="0.6"></line>
<text x="30.6" y="23.41" text-anchor="end" fill="#1a1a1a">7 000 000</text>
<line x1="34.1" x2="36.6" y1="8.70" y2="8.70" stroke="#a6a6a6" stroke-width="0.7"></line>
<text x="30.6" y="10.60" text-anchor="end" fill="#1a1a1a">8 000 000</text>
<line x1="45.08" x2="45.08" y1="111.2" y2="114.2" stroke="#a6a6a6" stroke-width="0.7"></line>
<text transform="translate(45.08 120.8) rotate(-30)" text-anchor="end" fill="#1a1a1a" font-size="6.1">tammikuu 2017</text>
<line x1="62.03" x2="62.03" y1="111.2" y2="112.7" stroke="#c4c4c4" stroke-width="0.6"></line>
<line x1="78.98" x2="78.98" y1="111.2" y2="114.2" stroke="#a6a6a6" stroke-width="0.7"></line>
<text transform="translate(78.98 120.8) rotate(-30)" text-anchor="end" fill="#1a1a1a" font-size="6.1">maaliskuu 2017</text>
<line x1="95.93" x2="95.93" y1="111.2" y2="112.7" stroke="#c4c4c4" stroke-width="0.6"></line>
<line x1="112.88" x2="112.88" y1="111.2" y2="114.2" stroke="#a6a6a6" stroke-width="0.7"></line>
<text transform="translate(112.88 120.8) rotate(-30)" text-anchor="end" fill="#1a1a1a" font-size="6.1">toukokuu 2017</text>
<line x1="129.83" x2="129.83" y1="111.2" y2="112.7" stroke="#c4c4c4" stroke-width="0.6"></line>
<line x1="146.78" x2="146.78" y1="111.2" y2="114.2" stroke="#a6a6a6" stroke-width="0.7"></line>
<text transform="translate(146.78 120.8) rotate(-30)" text-anchor="end" fill="#1a1a1a" font-size="6.1">heinäkuu 2017</text>
<line x1="163.73" x2="163.73" y1="111.2" y2="112.7" stroke="#c4c4c4" stroke-width="0.6"></line>
<line x1="180.68" x2="180.68" y1="111.2" y2="114.2" stroke="#a6a6a6" stroke-width="0.7"></line>
<text transform="translate(180.68 120.8) rotate(-30)" text-anchor="end" fill="#1a1a1a" font-size="6.1">syyskuu 2017</text>
<line x1="197.63" x2="197.63" y1="111.2" y2="112.7" stroke="#c4c4c4" stroke-width="0.6"></line>
<line x1="214.58" x2="214.58" y1="111.2" y2="114.2" stroke="#a6a6a6" stroke-width="0.7"></line>
<text transform="translate(214.58 120.8) rotate(-30)" text-anchor="end" fill="#1a1a1a" font-size="6.1">marraskuu 2017</text>
<line x1="231.53" x2="231.53" y1="111.2" y2="112.7" stroke="#c4c4c4" stroke-width="0.6"></line>
<polyline points="45.08,103.43 62.03,95.66 78.98,87.89 95.93,80.12 112.88,72.35 129.83,64.58 146.78,56.81 163.73,49.04 180.68,41.27 197.63,33.50 214.58,25.73 231.53,17.96" fill="none" stroke="#e2674f" stroke-width="1.35"></polyline>
<circle cx="45.08" cy="103.43" r="2.95" fill="#e2674f"></circle>
<circle cx="62.03" cy="95.66" r="2.95" fill="#e2674f"></circle>
<circle cx="78.98" cy="87.89" r="2.95" fill="#e2674f"></circle>
<circle cx="95.93" cy="80.12" r="2.95" fill="#e2674f"></circle>
<circle cx="112.88" cy="72.35" r="2.95" fill="#e2674f"></circle>
<circle cx="129.83" cy="64.58" r="2.95" fill="#e2674f"></circle>
<circle cx="146.78" cy="56.81" r="2.95" fill="#e2674f"></circle>
<circle cx="163.73" cy="49.04" r="2.95" fill="#e2674f"></circle>
<circle cx="180.68" cy="41.27" r="2.95" fill="#e2674f"></circle>
<circle cx="197.63" cy="33.50" r="2.95" fill="#e2674f"></circle>
<circle cx="214.58" cy="25.73" r="2.95" fill="#e2674f"></circle>
<circle cx="231.53" cy="17.96" r="2.95" fill="#e2674f"></circle>
<polyline points="45.08,105.19 62.03,99.15" fill="none" stroke="#2f8fd3" stroke-width="1.35"></polyline>
<circle cx="45.08" cy="105.19" r="2.95" fill="#2f8fd3"></circle>
<circle cx="62.03" cy="99.15" r="2.95" fill="#2f8fd3"></circle>
<rect x="5.3" y="147.8" width="202.7" height="11.8" fill="#f5f5f5" stroke="#dcdcdc" stroke-width="0.7"></rect>
<line x1="7.4" x2="18.0" y1="153.8" y2="153.8" stroke="#e2674f" stroke-width="1.1"></line><circle cx="12.6" cy="153.8" r="2.8" fill="#e2674f"></circle>
<text x="19.8" y="155.9" fill="#1a1a1a" textLength="79" lengthAdjust="spacing">Budjetoitu kustannukset (EUR)</text>
<line x1="105.3" x2="116.0" y1="153.8" y2="153.8" stroke="#2f8fd3" stroke-width="1.1"></line><circle cx="110.6" cy="153.8" r="2.8" fill="#2f8fd3"></circle>
<text x="118.2" y="155.9" fill="#1a1a1a" textLength="84.7" lengthAdjust="spacing">Toteutuneet kustannukset (EUR)</text>
</svg>


</div>


</body></html>
